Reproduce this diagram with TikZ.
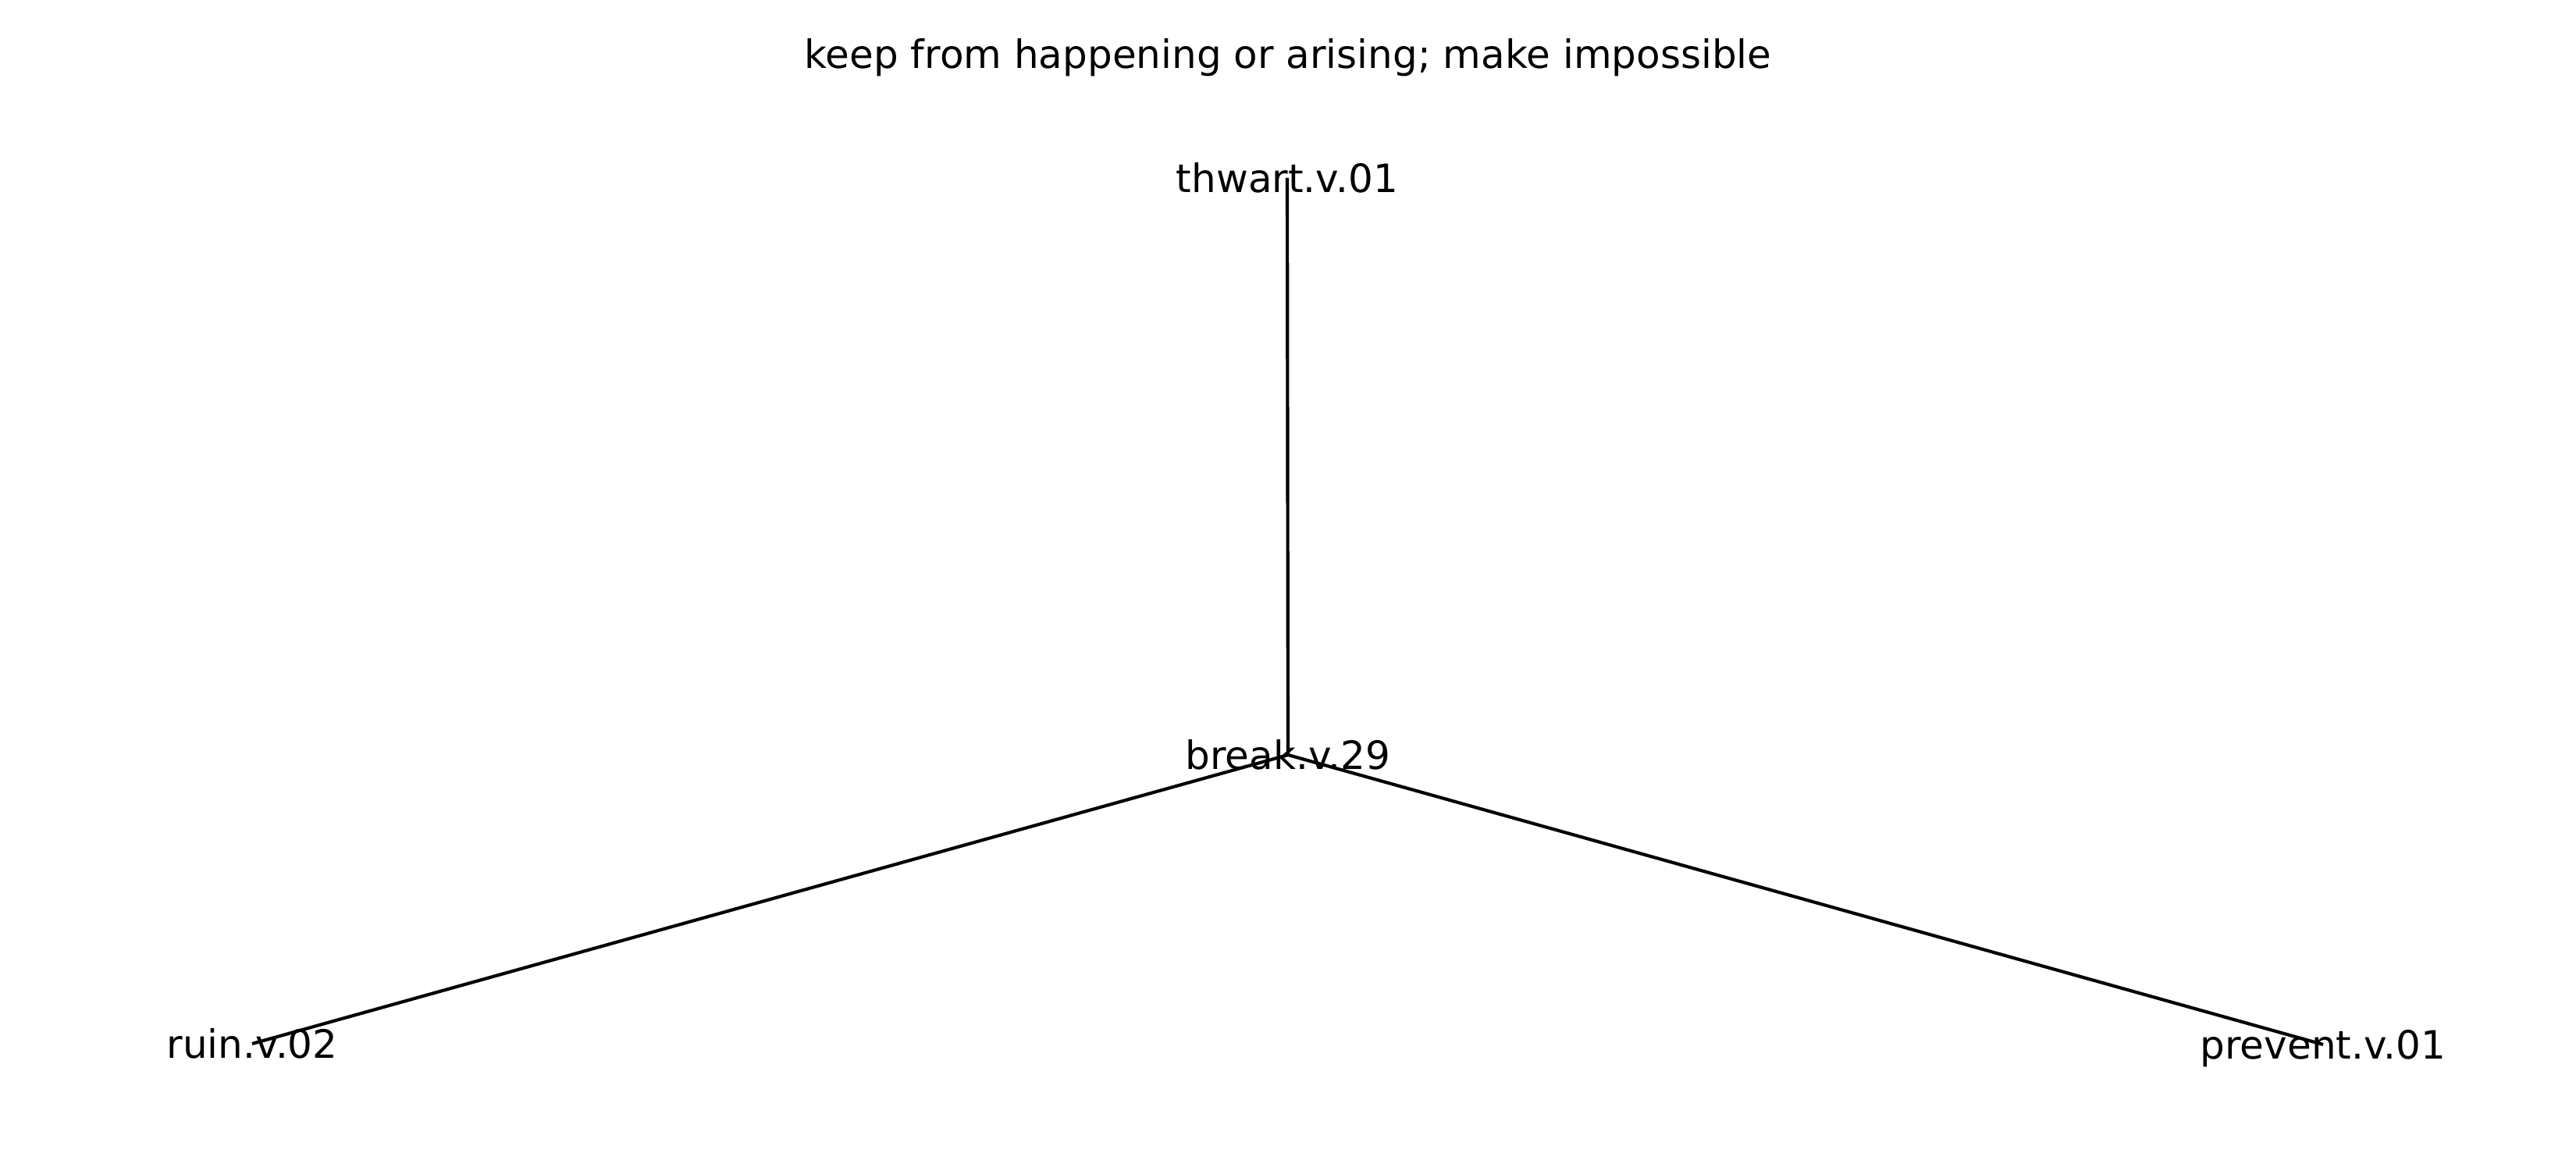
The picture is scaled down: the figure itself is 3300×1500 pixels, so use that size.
\documentclass[tikz,border=0pt]{standalone}
\usepackage{fontspec}
\setmainfont{DejaVu Sans}
\usetikzlibrary{positioning}
\tikzstyle{synset}=[inner sep=0pt,text height=9.1pt,text depth=0pt,font=\fontsize{12pt}{14pt}\selectfont]
\tikzstyle{edge}=[line width=1pt,black]
\tikzstyle{caption}=[inner sep=0pt,anchor=base,font=\fontsize{12pt}{14pt}\selectfont]

\begin{document}
\begin{tikzpicture}[x=0.24pt,y=-0.24pt]
    \useasboundingbox (0,0) rectangle (3300,1500);
    \node (title) [caption] at (1650,88) {keep from happening or arising; make impossible};

\node (n0) [synset] at (1649,228) {thwart.v.01};
\node (n1) [synset] at (1650,967) {break.v.29};
\node (n2) [synset] at (323,1337) {ruin.v.02};
\node (n3) [synset] at (2976,1338) {prevent.v.01};
\draw [edge] (n0.center) -- (n1.center);
\draw [edge] (n1.center) -- (n2.center);
\draw [edge] (n1.center) -- (n3.center);
\end{tikzpicture}
\end{document}
